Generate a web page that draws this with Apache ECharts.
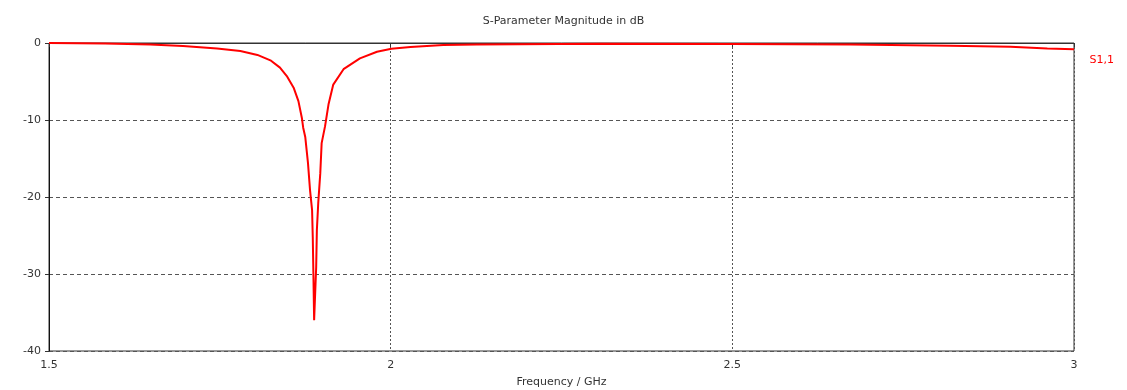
<!DOCTYPE html>
<html>
<head>
<meta charset="utf-8">
<script src="https://cdn.jsdelivr.net/npm/echarts@6/dist/echarts.min.js"></script>
<style>
html,body{margin:0;padding:0;background:#fff;}
#c{width:1127px;height:390px;}
</style>
</head>
<body>
<div id="c"></div>
<script>
const freqGHz = [1.5, 1.582, 1.648, 1.696, 1.746, 1.780, 1.805, 1.824, 1.838, 1.848, 1.858, 1.865, 1.870, 1.872, 1.875, 1.879, 1.882, 1.885, 1.886, 1.887, 1.888, 1.891, 1.892, 1.894, 1.897, 1.899, 1.904, 1.909, 1.916, 1.931, 1.955, 1.980, 2.001, 2.029, 2.077, 2.126, 2.307, 2.499, 2.673, 2.819, 2.907, 2.961, 3.0];
const s11dB = [0, -0.05, -0.18, -0.4, -0.7, -1.05, -1.55, -2.25, -3.2, -4.3, -5.8, -7.55, -9.7, -11, -12.2, -15.6, -19.1, -21.7, -25.2, -30.4, -36, -29.1, -24.3, -20.8, -16.9, -13, -10.8, -8.0, -5.4, -3.4, -2.0, -1.13, -0.74, -0.52, -0.26, -0.18, -0.1, -0.12, -0.2, -0.35, -0.5, -0.7, -0.8];
const seriesName = 'S1,1';
const chartTitle = 'S-Parameter Magnitude in dB';
const xAxisName = 'Frequency / GHz';

const chart = echarts.init(document.getElementById('c'), null, {renderer: 'canvas'});
const font = 'DejaVu Sans';
chart.setOption({
  animation: false,
  backgroundColor: '#ffffff',
  title: {
    text: chartTitle, left: 'center', top: 11,
    textStyle: {fontFamily: font, fontSize: 11, fontWeight: 'normal', color: '#333'}
  },
  legend: {
    data: [seriesName], right: 8, top: 48, icon: 'none', itemWidth: 0, itemGap: 0,
    textStyle: {fontFamily: font, fontSize: 11, color: '#ff0000'}
  },
  grid: {left: 49, right: 53, top: 43, bottom: 39, show: true, borderColor: '#333', borderWidth: 1, containLabel: false, outerBoundsMode: 'none'},
  xAxis: {
    type: 'value', min: 1.5, max: 3, interval: 0.5,
    name: xAxisName, nameLocation: 'middle', nameGap: 26,
    nameTextStyle: {fontFamily: font, fontSize: 11, color: '#333'},
    axisLine: {show: true, lineStyle: {color: '#333', width: 1}},
    axisTick: {show: true, length: 4, inside: false, lineStyle: {color: '#333'}},
    axisLabel: {fontFamily: font, fontSize: 11, color: '#333', margin: 9},
    splitLine: {show: true, lineStyle: {color: '#555', type: [2, 2], width: 1}}
  },
  yAxis: {
    type: 'value', min: -40, max: 0, interval: 10,
    axisLine: {show: true, lineStyle: {color: '#111', width: 1}},
    axisTick: {show: true, length: 4, lineStyle: {color: '#333'}},
    axisLabel: {fontFamily: font, fontSize: 11, color: '#333', margin: 8},
    splitLine: {show: true, lineStyle: {color: '#555', type: [4, 3], width: 1}}
  },
  series: [{
    name: seriesName, type: 'line', showSymbol: false, symbol: 'none',
    data: freqGHz.map((f, i) => [f, s11dB[i]]),
    lineStyle: {color: '#ff0000', width: 2},
    itemStyle: {color: '#ff0000'}
  }]
});
</script>
</body>
</html>
